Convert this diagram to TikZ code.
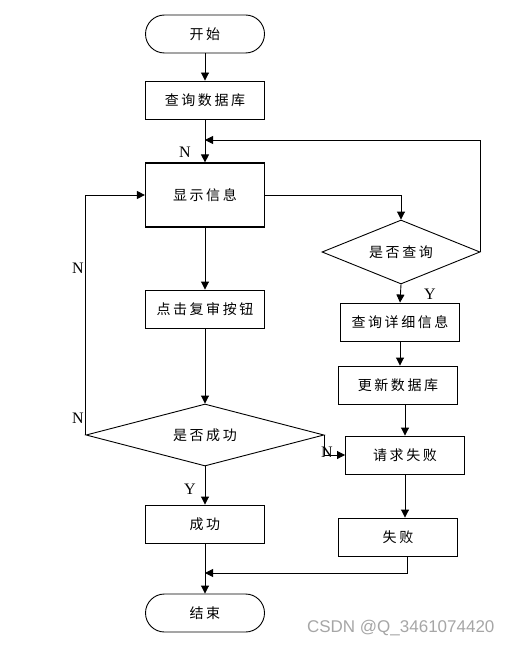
\documentclass[tikz,border=0pt]{standalone}
\usepackage{fontspec}
\setmainfont{Liberation Serif}
\newfontfamily\cjk[LetterSpace=18]{Noto Sans CJK SC}
\newfontfamily\wmfont{Liberation Sans}
\usetikzlibrary{shapes.geometric,arrows.meta}
\begin{document}
\begin{tikzpicture}[x=1pt,y=-1pt,
  every node/.style={font=\cjk\fontsize{14}{16}\selectfont},
  line/.style={draw=black,line width=0.9pt},
  arr/.style={line,-{Triangle[length=8pt,width=8pt]}},
  procbox/.style={line,rectangle,minimum width=119pt,minimum height=38pt,inner sep=0pt},
  termbox/.style={line,rectangle,rounded corners=19pt,minimum width=119pt,minimum height=38pt,inner sep=0pt},
  decbox/.style={line,diamond,inner sep=0pt},
  lab/.style={font=\fontsize{16}{18}\selectfont}]
\useasboundingbox (0,0) rectangle (513,647);
\node[termbox] (start) at (205,34) {开始};
\node[procbox] (q1) at (205,100) {查询数据库};
\node[procbox,minimum height=64pt,line width=1.2pt] (disp) at (205,195) {显示信息};
\node[decbox,aspect=2.47,minimum width=158pt,minimum height=64pt] (dec1) at (401,252) {是否查询};
\node[procbox] (qd) at (400,322) {查询详细信息};
\node[procbox] (upd) at (398,385) {更新数据库};
\node[procbox] (reqf) at (405,455) {请求失败};
\node[procbox] (fail) at (398,537) {失败};
\node[procbox] (rev) at (205,309) {点击复审按钮};
\node[decbox,aspect=3.84,minimum width=238pt,minimum height=62pt] (dec2) at (205,435) {是否成功};
\node[procbox] (ok) at (205,524) {成功};
\node[termbox] (end) at (205,613) {结束};
\coordinate (loopend) at (205,140);
\coordinate (merge) at (205,573);

\draw[arr] (start) -- (q1);
\draw[arr] (q1) -- (disp);
\draw[arr] (dec1.east) |- (loopend);
\draw[arr] (disp.east) -| (dec1.north);
\draw[arr] (dec1.south) -- (qd.north);
\draw[arr] (qd.south) -- (qd.south |- upd.north);
\draw[arr] (reqf.north |- upd.south) -- (reqf.north);
\draw[arr] (reqf.south) -- (reqf.south |- fail.north);
\draw[arr] ([xshift=9pt]fail.south) |- (merge);
\draw[arr] (disp) -- (rev);
\draw[arr] (rev) -- (dec2);
\draw[arr] (dec2.west) |- (disp.west);
\draw[arr] (dec2.east) |- (reqf.west);
\draw[arr] (dec2.south) -- (ok);
\draw[arr] (ok) -- (end);

\node[lab] (n1) at (185,152) {N};
\node[lab] (y1) at (430,294) {Y};
\node[lab] (n2) at (78,268) {N};
\node[lab] (n3) at (78,418) {N};
\node[lab] (n4) at (327,452) {N};
\node[lab] (y2) at (190,489) {Y};
\node[font=\wmfont\fontsize{17}{19}\selectfont,text=black!35,anchor=east] (wm) at (498,628) {CSDN @Q\_3461074420};
\end{tikzpicture}
\end{document}
